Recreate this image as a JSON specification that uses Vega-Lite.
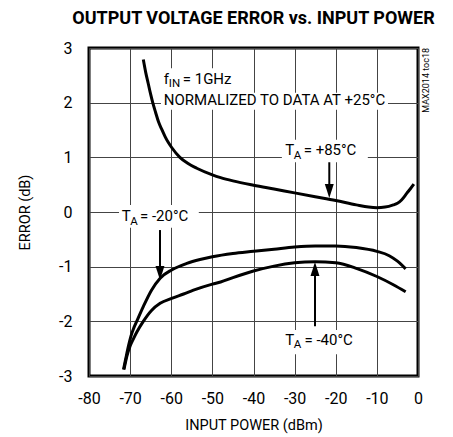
{
  "$schema": "https://vega.github.io/schema/vega-lite/v6.json",
  "width": 329,
  "height": 328,
  "autosize": {"type": "none"},
  "padding": {"left": 89, "top": 48, "right": 35, "bottom": 61},
  "background": "white",
  "title": {"text": "OUTPUT VOLTAGE ERROR vs. INPUT POWER", "font": "Roboto", "fontSize": 18, "fontWeight": "bold", "offset": 12, "anchor": "middle", "color": "#000"},
  "config": {
    "view": {"stroke": "#000", "strokeWidth": 3},
    "axis": {
      "grid": true, "ticks": false, "tickSize": 0, "domain": false,
      "gridColor": "#444", "gridWidth": 1, "gridOpacity": 1,
      "labelFont": "Roboto", "labelFontSize": 16, "labelColor": "#000",
      "titleFont": "Roboto", "titleFontSize": 14.5, "titleFontWeight": "normal", "titleColor": "#000",
      "labelFlush": false, "labelOverlap": false,
      "labelExpr": "replace(datum.label, '−', '-')"
    }
  },
  "datasets": {
    "curves": [
      {"s": "+85", "x": -66.8, "y": 2.79}, {"s": "+85", "x": -66.2, "y": 2.55}, {"s": "+85", "x": -65.6, "y": 2.35},
      {"s": "+85", "x": -65.0, "y": 2.15}, {"s": "+85", "x": -64.5, "y": 2.0}, {"s": "+85", "x": -63.8, "y": 1.82},
      {"s": "+85", "x": -63.1, "y": 1.65}, {"s": "+85", "x": -62.3, "y": 1.51}, {"s": "+85", "x": -61.5, "y": 1.38},
      {"s": "+85", "x": -60.7, "y": 1.27}, {"s": "+85", "x": -59.9, "y": 1.18}, {"s": "+85", "x": -57.9, "y": 1.0},
      {"s": "+85", "x": -56.0, "y": 0.89}, {"s": "+85", "x": -53.8, "y": 0.8}, {"s": "+85", "x": -50.0, "y": 0.68},
      {"s": "+85", "x": -48.0, "y": 0.63}, {"s": "+85", "x": -45.0, "y": 0.57}, {"s": "+85", "x": -40.0, "y": 0.49},
      {"s": "+85", "x": -35.0, "y": 0.42}, {"s": "+85", "x": -30.0, "y": 0.35}, {"s": "+85", "x": -25.0, "y": 0.28},
      {"s": "+85", "x": -20.0, "y": 0.21}, {"s": "+85", "x": -15.0, "y": 0.13}, {"s": "+85", "x": -12.0, "y": 0.09},
      {"s": "+85", "x": -10.0, "y": 0.08}, {"s": "+85", "x": -8.0, "y": 0.09}, {"s": "+85", "x": -6.0, "y": 0.13},
      {"s": "+85", "x": -5.0, "y": 0.16}, {"s": "+85", "x": -4.0, "y": 0.22}, {"s": "+85", "x": -2.75, "y": 0.34},
      {"s": "+85", "x": -1.8, "y": 0.43}, {"s": "+85", "x": -1.0, "y": 0.51},
      {"s": "-20", "x": -71.6, "y": -2.88}, {"s": "-20", "x": -71.0, "y": -2.66}, {"s": "-20", "x": -70.4, "y": -2.45},
      {"s": "-20", "x": -69.8, "y": -2.27}, {"s": "-20", "x": -69.1, "y": -2.12}, {"s": "-20", "x": -68.4, "y": -2.0},
      {"s": "-20", "x": -66.8, "y": -1.73}, {"s": "-20", "x": -64.8, "y": -1.43}, {"s": "-20", "x": -62.7, "y": -1.21},
      {"s": "-20", "x": -59.9, "y": -1.06}, {"s": "-20", "x": -56.2, "y": -0.94}, {"s": "-20", "x": -53.0, "y": -0.87},
      {"s": "-20", "x": -50.0, "y": -0.82}, {"s": "-20", "x": -45.0, "y": -0.76}, {"s": "-20", "x": -40.0, "y": -0.72},
      {"s": "-20", "x": -35.0, "y": -0.68}, {"s": "-20", "x": -30.0, "y": -0.64}, {"s": "-20", "x": -25.0, "y": -0.62},
      {"s": "-20", "x": -20.0, "y": -0.62}, {"s": "-20", "x": -15.0, "y": -0.65}, {"s": "-20", "x": -10.0, "y": -0.72},
      {"s": "-20", "x": -7.0, "y": -0.8}, {"s": "-20", "x": -5.0, "y": -0.9}, {"s": "-20", "x": -3.0, "y": -1.04},
      {"s": "-40", "x": -71.5, "y": -2.88}, {"s": "-40", "x": -70.8, "y": -2.64}, {"s": "-40", "x": -70.0, "y": -2.45},
      {"s": "-40", "x": -69.2, "y": -2.32}, {"s": "-40", "x": -68.4, "y": -2.2}, {"s": "-40", "x": -66.8, "y": -2.0},
      {"s": "-40", "x": -64.8, "y": -1.8}, {"s": "-40", "x": -62.7, "y": -1.67}, {"s": "-40", "x": -59.9, "y": -1.58},
      {"s": "-40", "x": -57.0, "y": -1.5}, {"s": "-40", "x": -54.6, "y": -1.43}, {"s": "-40", "x": -50.0, "y": -1.32},
      {"s": "-40", "x": -48.0, "y": -1.28}, {"s": "-40", "x": -45.0, "y": -1.2}, {"s": "-40", "x": -40.0, "y": -1.08},
      {"s": "-40", "x": -35.0, "y": -0.99}, {"s": "-40", "x": -30.0, "y": -0.93}, {"s": "-40", "x": -25.0, "y": -0.91},
      {"s": "-40", "x": -20.0, "y": -0.93}, {"s": "-40", "x": -15.0, "y": -1.03}, {"s": "-40", "x": -10.0, "y": -1.18},
      {"s": "-40", "x": -6.0, "y": -1.33}, {"s": "-40", "x": -3.0, "y": -1.46}
    ],
    "masks": [
      {"x": -62.5, "x2": -44.5, "y": 2.63, "y2": 2.14},
      {"x": -62.5, "x2": -7.3, "y": 2.18, "y2": 1.87},
      {"x": -33.1, "x2": -12.2, "y": 1.32, "y2": 0.91},
      {"x": -72.7, "x2": -53.3, "y": 0.13, "y2": -0.29},
      {"x": -33.1, "x2": -14.1, "y": -2.16, "y2": -2.6}
    ],
    "arrows": [
      {"x": -21.57, "y": 0.91, "y2": 0.45},
      {"x": -62.74, "y": -0.33, "y2": -1.0},
      {"x": -25.05, "y": -2.09, "y2": -1.15}
    ],
    "heads": [
      {"x": -21.57, "y": 0.384, "dir": "down"},
      {"x": -62.74, "y": -1.116, "dir": "down"},
      {"x": -25.05, "y": -1.043, "dir": "up"}
    ],
    "main": [
      {"x": -61.8, "y": 2.43, "t": "f"},
      {"x": -57.2, "y": 2.43, "t": "= 1GHz"},
      {"x": -61.8, "y": 2.05, "t": "NORMALIZED TO DATA AT +25°C"},
      {"x": -32.3, "y": 1.13, "t": "T"},
      {"x": -27.8, "y": 1.13, "t": "= +85°C"},
      {"x": -72.05, "y": -0.08, "t": "T"},
      {"x": -67.6, "y": -0.08, "t": "= -20°C"},
      {"x": -32.3, "y": -2.34, "t": "T"},
      {"x": -27.6, "y": -2.34, "t": "= -40°C"}
    ],
    "subs": [
      {"x": -60.6, "y": 2.34, "t": "IN"},
      {"x": -30.2, "y": 1.03, "t": "A"},
      {"x": -70.0, "y": -0.18, "t": "A"},
      {"x": -30.2, "y": -2.44, "t": "A"}
    ],
    "code": [
      {"x": 1.95, "y": 3.0, "t": "MAX2014 toc18"}
    ]
  },
  "encoding": {
    "x": {"field": "x", "type": "quantitative", "scale": {"domain": [-80, 0], "nice": false, "zero": false},
      "axis": {"values": [-80, -70, -60, -50, -40, -30, -20, -10, 0], "title": "INPUT POWER (dBm)", "labelPadding": 14, "titlePadding": 12}},
    "y": {"field": "y", "type": "quantitative", "scale": {"domain": [-3, 3], "nice": false, "zero": false},
      "axis": {"values": [-3, -2, -1, 0, 1, 2, 3], "title": "ERROR (dB)", "labelPadding": 17, "titlePadding": 26}}
  },
  "layer": [
    {"data": {"name": "curves"}, "mark": {"type": "line", "color": "#000", "strokeWidth": 3, "interpolate": "monotone"}, "encoding": {"detail": {"field": "s"}}},
    {"data": {"name": "masks"}, "mark": {"type": "rect", "color": "white", "opacity": 1}, "encoding": {"x2": {"field": "x2"}, "y2": {"field": "y2"}}},
    {"data": {"name": "arrows"}, "mark": {"type": "rule", "color": "#000", "strokeWidth": 2}, "encoding": {"y2": {"field": "y2"}}},
    {"data": {"name": "heads"}, "mark": {"type": "point", "filled": true, "color": "#000", "opacity": 1, "size": 196, "strokeWidth": 0},
      "encoding": {"shape": {"field": "dir", "type": "nominal", "scale": {"domain": ["down", "up"], "range": ["M-0.64,-1L0.64,-1L0,1Z", "M-0.64,1L0.64,1L0,-1Z"]}, "legend": null}}},
    {"data": {"name": "main"}, "mark": {"type": "text", "align": "left", "baseline": "middle", "font": "Roboto", "fontSize": 15, "color": "#000"}, "encoding": {"text": {"field": "t"}}},
    {"data": {"name": "subs"}, "mark": {"type": "text", "align": "left", "baseline": "middle", "font": "Roboto", "fontSize": 11.5, "color": "#000"}, "encoding": {"text": {"field": "t"}}},
    {"data": {"name": "code"}, "mark": {"type": "text", "align": "right", "baseline": "middle", "angle": 270, "font": "Roboto", "fontSize": 9, "color": "#000"}, "encoding": {"text": {"field": "t"}}}
  ]
}
